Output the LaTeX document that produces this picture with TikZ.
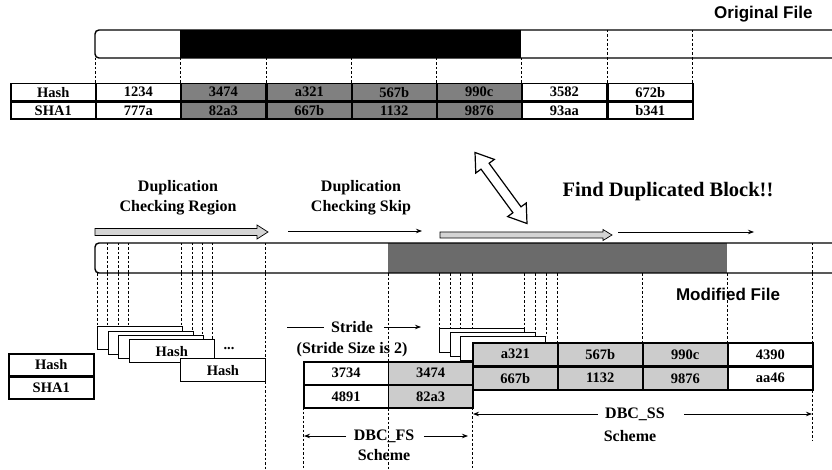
\documentclass[tikz,border=0pt]{standalone}
\usepackage{fontspec}
\setmainfont{Liberation Serif}
\newfontfamily\labelsans{Liberation Sans}
\usetikzlibrary{arrows.meta, positioning}

\definecolor{darkcell}{gray}{0.5}
\definecolor{lightcell}{gray}{0.8}
\definecolor{darkbar}{gray}{0.42}
\definecolor{fatgray}{gray}{0.83}

\begin{document}
\begin{tikzpicture}[x=1pt, y=-1pt,
    every node/.style={font=\fontsize{14.5}{16}\selectfont\bfseries},
    cell/.style={draw, line width=1.5pt, inner sep=0pt, minimum width=85pt, minimum height=17pt, anchor=north west},
    card/.style={draw, line width=1.4pt, fill=white, inner sep=0pt, minimum width=85pt, minimum height=23pt, anchor=north west},
    guide/.style={dash pattern=on 2.5pt off 2pt, line width=0.6pt},
    thin/.style={-{Stealth[length=6pt, width=4.5pt]}, line width=0.8pt},
    fatarrow/.style={draw, line width=0.7pt, fill=fatgray},
    title/.style={font=\labelsans\fontsize{17}{19}\selectfont\bfseries},
    lbl/.style={font=\fontsize{16}{20}\selectfont\bfseries, align=center}]
\useasboundingbox (0,0) rectangle (832,470);

% original file
\fill[black] (180,30) rectangle (521,58);
\draw[line width=1.4pt, rounded corners=4pt] (832,30) -- (95,30) -- (95,58) -- (832,58);
\node[title, anchor=east] (orig) at (816,14) {Original File};
\foreach \x in {95,180,266,351,436,521,607,692}
    \draw[guide] (\x,58) -- (\x,83);
\foreach \x in {607,692}
    \draw[guide] (\x,30) -- (\x,58);

% hash table of the original file
\node[cell] (ohash) at (10,83) {Hash};
\node[cell] (osha) at (10,101.5) {SHA1};
\foreach \x/\h/\s/\f [count=\c] in {95/1234/777a/white, 180/3474/82a3/darkcell, 266/a321/667b/darkcell, 351/567b/1132/darkcell, 436/990c/9876/darkcell, 521/3582/93aa/white, 607/672b/b341/white} {
    \node[cell, fill=\f] (oh\c) at (\x,83) {\h};
    \node[cell, fill=\f] (os\c) at (\x,101.5) {\s};
}

% match between the two files
\begin{scope}[shift={(501,188)}, rotate=126.2]
    \draw[line width=1.2pt, fill=white] (-44,0) -- (-27,11.5) -- (-27,5) -- (27,5) -- (27,11.5) -- (44,0) -- (27,-11.5) -- (27,-5) -- (-27,-5) -- (-27,-11.5) -- cycle;
\end{scope}
\node[font=\fontsize{20.5}{24}\selectfont\bfseries] (found) at (668,192) {Find Duplicated Block!!};

% checking region / skip
\node[lbl] (region) at (178,198) {Duplication\\Checking Region};
\node[lbl] (skip) at (361,198) {Duplication\\Checking Skip};
\path[fatarrow] (95,228.5) -- (257,228.5) -- (257,225) -- (268,232) -- (257,239) -- (257,235.5) -- (95,235.5) -- cycle;
\path[fatarrow] (440,232) -- (603,232) -- (603,229.5) -- (612,235) -- (603,240.5) -- (603,238) -- (440,238) -- cycle;
\coordinate (skipA) at (288,231);
\coordinate (skipB) at (422,231);
\coordinate (findA) at (618,232);
\coordinate (findB) at (754,232);
\draw[thin] (skipA) -- (skipB);
\draw[thin] (findA) -- (findB);

% modified file
\fill[darkbar] (388,243) rectangle (727,273);
\draw[line width=1.4pt, rounded corners=4pt] (832,243) -- (95,243) -- (95,273) -- (832,273);
\node[title] (mod) at (728,294) {Modified File};

% guide lines
\foreach \x in {107.5,118,128.5,181.7,192.7,202.7,212.7,265,812}
    \draw[guide] (\x,243) -- (\x,273);
\foreach \x/\y in {97/326, 107.5/330.5, 118/335, 128.5/339, 181.7/326, 192.7/330.5, 202.7/335, 212.7/339}
    \draw[guide] (\x,273) -- (\x,\y);
\foreach \x/\y in {439/328, 450/332, 460/336, 472/342, 524/328, 535/332, 546/336, 557/342, 642/342, 727/342}
    \draw[guide] (\x,273) -- (\x,\y);
\draw[guide] (265,273) -- (265,470);
\draw[guide] (388,273) -- (388,470);
\draw[guide] (303,407) -- (303,470);
\draw[guide] (472,389) -- (472,470);
\draw[guide] (812,273) -- (812,440);

% sliding hash windows
\node[cell, minimum height=22pt] (bhash) at (8,353) {Hash};
\node[cell, minimum height=22pt] (bsha) at (8,376) {SHA1};
\foreach \x/\y [count=\k] in {97/326, 107.5/330.5, 118/335}
    \node[card] (lcard\k) at (\x,\y) {};
\node[card] (lcard4) at (128.5,339) {Hash};
\node (ldots) at (229,349) {...};
\node[card] (lcard5) at (179.7,358) {Hash};

% stride
\node[lbl] (stride) at (352,327) {Stride};
\node[lbl] (stsize) at (352,350) {(Stride Size is 2)};
\coordinate (strideL) at (287,327);
\coordinate (strideR) at (421,327);
\draw[line width=0.8pt] (strideL) -- ([xshift=-4pt]stride.west);
\draw[thin] ([xshift=8pt]stride.east) -- (strideR);

% DBC_SS blocks
\foreach \x/\y [count=\k] in {439/328, 450/332, 460/336}
    \node[card, minimum height=24pt] (rcard\k) at (\x,\y) {};
\foreach \x/\h/\s/\f [count=\c] in {472/a321/667b/lightcell, 557/567b/1132/lightcell, 642/990c/9876/lightcell, 727/4390/aa46/white} {
    \node[cell, minimum height=23pt, fill=\f] (ssa\c) at (\x,342) {\h};
    \node[cell, minimum height=23pt, fill=\f] (ssb\c) at (\x,366) {\s};
}

% DBC_FS blocks
\node[cell, minimum width=84.5pt, minimum height=22.5pt, fill=white] (fsa1) at (303,361) {3734};
\node[cell, minimum width=84.5pt, minimum height=22.5pt, fill=lightcell] (fsa2) at (387.5,361) {3474};
\node[cell, minimum width=84.5pt, minimum height=22.5pt, fill=white] (fsb1) at (303,384.5) {4891};
\node[cell, minimum width=84.5pt, minimum height=22.5pt, fill=lightcell] (fsb2) at (387.5,384.5) {82a3};

% schemes
\node[lbl] (fs) at (384,436) {DBC\_FS};
\node[lbl] (fsname) at (384,455) {Scheme};
\coordinate (fsL) at (304,436);
\coordinate (fsR) at (468,436);
\draw[thin] ([xshift=-4pt]fs.west) -- (fsL);
\draw[thin] ([xshift=6pt]fs.east) -- (fsR);
\node[lbl] (ss) at (635,414) {DBC\_SS};
\node[lbl] (ssname) at (630,436) {Scheme};
\coordinate (ssL) at (473,414);
\coordinate (ssR) at (812,414);
\draw[thin] ([xshift=-4pt]ss.west) -- (ssL);
\draw[thin] ([xshift=16pt]ss.east) -- (ssR);
\end{tikzpicture}
\end{document}
